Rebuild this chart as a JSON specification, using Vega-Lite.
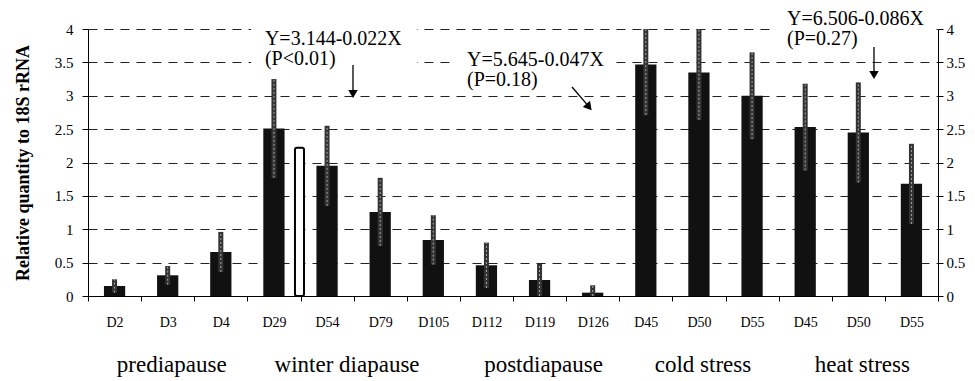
{
  "$schema": "https://vega.github.io/schema/vega-lite/v6.json",
  "width": 850,
  "height": 267,
  "autosize": "none",
  "padding": {"left": 88, "top": 29, "right": 37, "bottom": 85},
  "background": "white",
  "config": {
    "view": {"stroke": null},
    "font": "Liberation Serif",
    "axis": {"labelFont": "Liberation Serif", "titleFont": "Liberation Serif", "labelColor": "black", "titleColor": "black", "domainColor": "black", "tickColor": "black"}
  },
  "resolve": {"scale": {"x": "independent", "y": "independent"}},
  "layer": [
    {
      "data": {"values": [
        {"key": "D2", "value": 0.15, "err": 0.10},
        {"key": "D3", "value": 0.31, "err": 0.14},
        {"key": "D4", "value": 0.66, "err": 0.30},
        {"key": "D29", "value": 2.51, "err": 0.74},
        {"key": "D54", "value": 1.95, "err": 0.60},
        {"key": "D79", "value": 1.26, "err": 0.51},
        {"key": "D105", "value": 0.84, "err": 0.37},
        {"key": "D112", "value": 0.46, "err": 0.34},
        {"key": "D119", "value": 0.24, "err": 0.24},
        {"key": "D126", "value": 0.05, "err": 0.11},
        {"key": "cold D45", "value": 3.47, "err": 0.76},
        {"key": "cold D50", "value": 3.35, "err": 0.71},
        {"key": "cold D55", "value": 3.00, "err": 0.65},
        {"key": "heat D45", "value": 2.53, "err": 0.65},
        {"key": "heat D50", "value": 2.45, "err": 0.75},
        {"key": "heat D55", "value": 1.68, "err": 0.60}
      ]},
      "encoding": {
        "x": {
          "field": "key", "type": "nominal", "title": null,
          "scale": {"domain": ["D2","D3","D4","D29","D54","D79","D105","D112","D119","D126","cold D45","cold D50","cold D55","heat D45","heat D50","heat D55"], "paddingInner": 0, "paddingOuter": 0},
          "axis": {"title": null, "labelAngle": 0, "labelFontSize": 14, "tickBand": "extent", "tickSize": 5, "labelPadding": 14, "domainWidth": 1,
                   "labelExpr": "length(datum.label) > 5 ? slice(datum.label, 5) : datum.label"}
        },
        "y": {
          "field": "value", "type": "quantitative", "title": "Relative quantity to 18S rRNA",
          "scale": {"domain": [0, 4], "nice": false, "clamp": true},
          "axis": {"values": [0,0.5,1,1.5,2,2.5,3,3.5,4], "format": "~g", "labelFontSize": 15, "tickSize": 6, "labelPadding": 9,
                   "grid": true, "gridDash": [9, 7], "gridColor": "#222", "gridWidth": 1,
                   "titleFontSize": 18, "titleFontWeight": "bold", "titlePadding": 22}
        }
      },
      "layer": [
        {"mark": {"type": "bar", "color": "#111", "width": {"band": 0.4}}},
        {"mark": {"type": "errorbar", "color": "#333", "thickness": 5}, "encoding": {"yError": {"field": "err"}}},
        {"mark": {"type": "errorbar", "color": "#a8a8a8", "thickness": 1, "rule": {"strokeDash": [2, 2]}}, "encoding": {"yError": {"field": "err"}}}
      ]
    },
    {
      "data": {"values": [
        {"group": "prediapause", "at": "D3"},
        {"group": "winter diapause", "at": "D54"},
        {"group": "postdiapause", "at": "D119"},
        {"group": "cold stress", "at": "cold D50"},
        {"group": "heat stress", "at": "heat D50"}
      ]},
      "layer": [
        {
          "transform": [{"filter": "datum.group != 'winter diapause'"}],
          "mark": {"type": "text", "fontSize": 23, "dy": 76, "dx": 4, "baseline": "alphabetic", "align": "center", "color": "black"},
          "encoding": {
            "x": {"field": "at", "type": "nominal", "axis": null, "scale": {"domain": ["D2","D3","D4","D29","D54","D79","D105","D112","D119","D126","cold D45","cold D50","cold D55","heat D45","heat D50","heat D55"], "paddingInner": 0, "paddingOuter": 0}},
            "y": {"datum": 0, "type": "quantitative", "axis": null, "scale": {"domain": [0, 4], "nice": false}},
            "text": {"field": "group", "type": "nominal"}
          }
        },
        {
          "transform": [{"filter": "datum.group == 'winter diapause'"}],
          "mark": {"type": "text", "fontSize": 23, "dy": 76, "dx": 20, "baseline": "alphabetic", "align": "center", "color": "black"},
          "encoding": {
            "x": {"field": "at", "type": "nominal", "axis": null, "scale": {"domain": ["D2","D3","D4","D29","D54","D79","D105","D112","D119","D126","cold D45","cold D50","cold D55","heat D45","heat D50","heat D55"], "paddingInner": 0, "paddingOuter": 0}},
            "y": {"datum": 0, "type": "quantitative", "axis": null, "scale": {"domain": [0, 4], "nice": false}},
            "text": {"field": "group", "type": "nominal"}
          }
        }
      ]
    },
    {
      "data": {"values": [{"value": 2.22}]},
      "mark": {"type": "rect", "fill": "white", "stroke": "black", "strokeWidth": 2, "cornerRadius": 2},
      "encoding": {
        "x": {"datum": 3.896, "type": "quantitative", "scale": {"domain": [0, 16], "nice": false, "zero": false}, "axis": null},
        "x2": {"datum": 4.066},
        "y": {"field": "value", "type": "quantitative", "title": null, "scale": {"domain": [0, 4], "nice": false},
              "axis": {"orient": "right", "values": [0,0.5,1,1.5,2,2.5,3,3.5,4], "format": "~g", "labelFontSize": 15, "tickSize": 5, "labelPadding": 3, "grid": false, "title": null}},
        "y2": {"datum": 0}
      }
    },
    {
      "data": {"values": [{}]},
      "layer": [
        {"mark": {"type": "rect", "fill": "white"},
         "encoding": {"x": {"datum": 3.07, "type": "quantitative", "scale": {"domain": [0, 16], "nice": false, "zero": false}, "axis": null}, "x2": {"datum": 6.19},
                      "y": {"datum": 4.10, "type": "quantitative", "scale": {"domain": [0, 4], "nice": false}, "axis": null}, "y2": {"datum": 3.356}}},
        {"mark": {"type": "rect", "fill": "white"},
         "encoding": {"x": {"datum": 6.87, "type": "quantitative", "scale": {"domain": [0, 16], "nice": false, "zero": false}, "axis": null}, "x2": {"datum": 9.92},
                      "y": {"datum": 3.76, "type": "quantitative", "scale": {"domain": [0, 4], "nice": false}, "axis": null}, "y2": {"datum": 3.056}}},
        {"mark": {"type": "rect", "fill": "white"},
         "encoding": {"x": {"datum": 12.84, "type": "quantitative", "scale": {"domain": [0, 16], "nice": false, "zero": false}, "axis": null}, "x2": {"datum": 15.92},
                      "y": {"datum": 4.40, "type": "quantitative", "scale": {"domain": [0, 4], "nice": false}, "axis": null}, "y2": {"datum": 3.61}}},
        {"mark": {"type": "text", "text": ["Y=3.144-0.022X", "(P<0.01)"], "fontSize": 20, "lineHeight": 20, "align": "left", "baseline": "alphabetic", "color": "black"},
         "encoding": {"x": {"datum": 3.33, "type": "quantitative", "scale": {"domain": [0, 16], "nice": false, "zero": false}, "axis": null},
                      "y": {"datum": 3.76, "type": "quantitative", "scale": {"domain": [0, 4], "nice": false}, "axis": null}}},
        {"mark": {"type": "text", "text": ["Y=5.645-0.047X", "(P=0.18)"], "fontSize": 20, "lineHeight": 20, "align": "left", "baseline": "alphabetic", "color": "black"},
         "encoding": {"x": {"datum": 7.134, "type": "quantitative", "scale": {"domain": [0, 16], "nice": false, "zero": false}, "axis": null},
                      "y": {"datum": 3.446, "type": "quantitative", "scale": {"domain": [0, 4], "nice": false}, "axis": null}}},
        {"mark": {"type": "text", "text": ["Y=6.506-0.086X", "(P=0.27)"], "fontSize": 20, "lineHeight": 20, "align": "left", "baseline": "alphabetic", "color": "black"},
         "encoding": {"x": {"datum": 13.158, "type": "quantitative", "scale": {"domain": [0, 16], "nice": false, "zero": false}, "axis": null},
                      "y": {"datum": 4.06, "type": "quantitative", "scale": {"domain": [0, 4], "nice": false}, "axis": null}}},
        {"mark": {"type": "rule", "color": "black", "strokeWidth": 1.3},
         "encoding": {"x": {"datum": 4.988, "type": "quantitative", "scale": {"domain": [0, 16], "nice": false, "zero": false}, "axis": null},
                      "y": {"datum": 3.461, "type": "quantitative", "scale": {"domain": [0, 4], "nice": false}, "axis": null}, "y2": {"datum": 3.04}}},
        {"mark": {"type": "rule", "color": "black", "strokeWidth": 1.3},
         "encoding": {"x": {"datum": 14.795, "type": "quantitative", "scale": {"domain": [0, 16], "nice": false, "zero": false}, "axis": null},
                      "y": {"datum": 3.73, "type": "quantitative", "scale": {"domain": [0, 4], "nice": false}, "axis": null}, "y2": {"datum": 3.33}}},
        {"mark": {"type": "rule", "color": "black", "strokeWidth": 1.3},
         "encoding": {"x": {"datum": 9.111, "type": "quantitative", "scale": {"domain": [0, 16], "nice": false, "zero": false}, "axis": null}, "x2": {"datum": 9.42},
                      "y": {"datum": 3.131, "type": "quantitative", "scale": {"domain": [0, 4], "nice": false}, "axis": null}, "y2": {"datum": 2.845}}},
        {"mark": {"type": "point", "shape": "triangle-down", "filled": true, "color": "black", "opacity": 1, "size": 90},
         "encoding": {"x": {"datum": 4.988, "type": "quantitative", "scale": {"domain": [0, 16], "nice": false, "zero": false}, "axis": null},
                      "y": {"datum": 3.026, "type": "quantitative", "scale": {"domain": [0, 4], "nice": false}, "axis": null}}},
        {"mark": {"type": "point", "shape": "triangle-down", "filled": true, "color": "black", "opacity": 1, "size": 90},
         "encoding": {"x": {"datum": 14.795, "type": "quantitative", "scale": {"domain": [0, 16], "nice": false, "zero": false}, "axis": null},
                      "y": {"datum": 3.311, "type": "quantitative", "scale": {"domain": [0, 4], "nice": false}, "axis": null}}},
        {"mark": {"type": "point", "shape": "triangle-down", "filled": true, "color": "black", "opacity": 1, "size": 90, "angle": 320},
         "encoding": {"x": {"datum": 9.431, "type": "quantitative", "scale": {"domain": [0, 16], "nice": false, "zero": false}, "axis": null},
                      "y": {"datum": 2.831, "type": "quantitative", "scale": {"domain": [0, 4], "nice": false}, "axis": null}}}
      ]
    }
  ]
}
